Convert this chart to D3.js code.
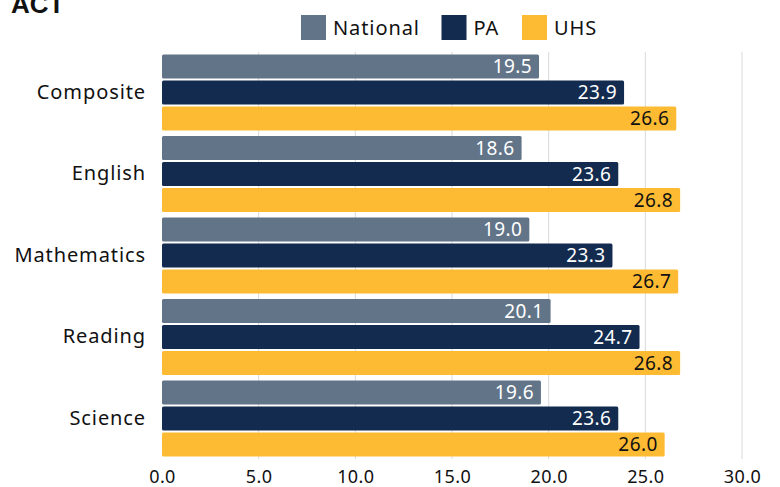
<!DOCTYPE html>
<html>
<head>
<meta charset="utf-8">
<script src="https://cdn.jsdelivr.net/npm/d3@7"></script>
<style>
  body { margin: 0; background: #fff; }
  svg { display: block; font-family: "Noto Sans", "Open Sans", sans-serif; }
</style>
</head>
<body>
<svg width="780" height="487"></svg>
<script>
// categorieen en reeksen
var subjects = ["Composite", "English", "Mathematics", "Reading", "Science"];
var seriesNames = ["National", "PA", "UHS"];
var national = [19.5, 18.6, 19.0, 20.1, 19.6];
var pa = [23.9, 23.6, 23.3, 24.7, 23.6];
var uhs = [26.6, 26.8, 26.7, 26.8, 26.0];
var xTicks = [0, 5, 10, 15, 20, 25, 30];

var colors = { National: "#627488", PA: "#132b4f", UHS: "#fdbb33" };
var labelColors = { National: "#ffffff", PA: "#ffffff", UHS: "#111111" };

var table = subjects.map(function (s, i) {
    return { subject: s, National: national[i], PA: pa[i], UHS: uhs[i] };
});

var svg = d3.select("svg"),
    margin = { top: 52, right: 38, bottom: 28, left: 162 },
    width = +svg.attr("width") - margin.left - margin.right,
    height = +svg.attr("height") - margin.top - margin.bottom;

var x = d3.scaleLinear().domain([0, 30]).range([0, width]);
var y0 = d3.scaleBand().domain(subjects).range([0, height]).paddingInner(0.0675).paddingOuter(0.03);
var y1 = d3.scaleBand().domain(seriesNames).range([0, y0.bandwidth()]).paddingInner(0.08).paddingOuter(0);

// titel, deels buiten beeld
svg.append("text")
    .attr("x", 11)
    .attr("y", 12.5)
    .attr("font-family", "Liberation Sans, Arial, sans-serif")
    .attr("font-weight", "bold")
    .attr("font-size", 26)
    .attr("fill", "#111")
    .text("ACT");

var g = svg.append("g")
    .attr("transform", "translate(" + margin.left + "," + margin.top + ")");

// rasterlijnen
g.append("g")
    .selectAll("line")
    .data(xTicks.filter(function (d) { return d > 0; }))
    .enter().append("line")
    .attr("x1", function (d) { return x(d); })
    .attr("x2", function (d) { return x(d); })
    .attr("y1", 0)
    .attr("y2", height)
    .attr("stroke", "#d9d9d9")
    .attr("stroke-width", 1);

// x-as
var xAxis = g.append("g")
    .attr("transform", "translate(0," + height + ")")
    .call(d3.axisBottom(x).tickValues(xTicks).tickFormat(d3.format(".1f")).tickSize(0).tickPadding(11));
xAxis.select(".domain").remove();
xAxis.selectAll("text")
    .attr("font-family", "Noto Sans, sans-serif")
    .attr("font-size", 18)
    .attr("letter-spacing", 0.4)
    .attr("fill", "#111");

// y-as
var yAxis = g.append("g")
    .call(d3.axisLeft(y0).tickSize(0).tickPadding(16));
yAxis.select(".domain").remove();
yAxis.selectAll("text")
    .attr("font-family", "Noto Sans, sans-serif")
    .attr("font-size", 20)
    .attr("letter-spacing", 0.9)
    .attr("fill", "#111");

// balken
var groups = g.selectAll(".group")
    .data(table)
    .enter().append("g")
    .attr("class", "group")
    .attr("transform", function (d) { return "translate(0," + y0(d.subject) + ")"; });

var cells = groups.selectAll(".cell")
    .data(function (d) {
        return seriesNames.map(function (k) { return { key: k, value: d[k] }; });
    })
    .enter().append("g")
    .attr("class", "cell");

cells.append("rect")
    .attr("x", 0)
    .attr("y", function (d) { return y1(d.key); })
    .attr("width", function (d) { return x(d.value); })
    .attr("height", y1.bandwidth())
    .attr("rx", 1.5)
    .attr("fill", function (d) { return colors[d.key]; });

cells.append("text")
    .attr("x", function (d) { return x(d.value) - 7; })
    .attr("y", function (d) { return y1(d.key) + y1.bandwidth() / 2; })
    .attr("dy", "0.36em")
    .attr("text-anchor", "end")
    .attr("font-size", 19)
    .attr("letter-spacing", 0.4)
    .attr("fill", function (d) { return labelColors[d.key]; })
    .text(function (d) { return d.value.toFixed(1); });

// legenda
var legendX = [301, 441.5, 522];
var legend = svg.append("g")
    .selectAll("g")
    .data(seriesNames)
    .enter().append("g")
    .attr("transform", function (d, i) { return "translate(" + legendX[i] + ",15)"; });

legend.append("rect")
    .attr("width", 25)
    .attr("height", 25)
    .attr("fill", function (d) { return colors[d]; });

legend.append("text")
    .attr("x", 32)
    .attr("y", 13)
    .attr("dy", "0.36em")
    .attr("font-size", 20)
    .attr("letter-spacing", 0.9)
    .attr("fill", "#111")
    .text(function (d) { return d; });
</script>
</body>
</html>
